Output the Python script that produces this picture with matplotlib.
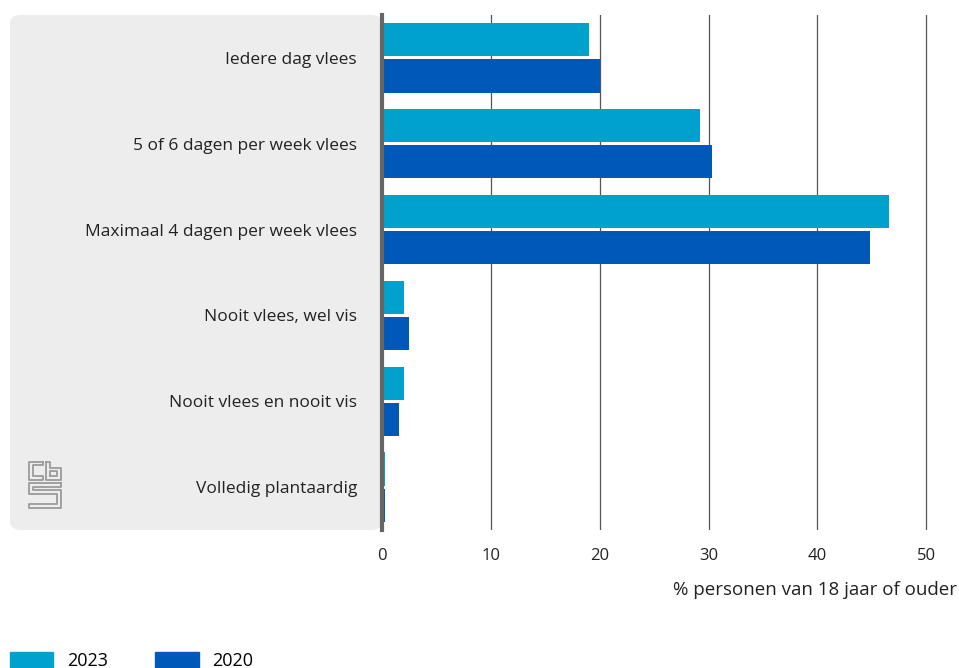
import numpy as np
import matplotlib
matplotlib.use("Agg")
import matplotlib.pyplot as plt
from matplotlib.patches import FancyBboxPatch, Patch

plt.rcParams['font.family'] = ['Open Sans', 'DejaVu Sans']

categories = ["Iedere dag vlees", "5 of 6 dagen per week vlees",
              "Maximaal 4 dagen per week vlees", "Nooit vlees, wel vis",
              "Nooit vlees en nooit vis", "Volledig plantaardig"]
values_2023 = [19.0, 29.2, 46.6, 2.0, 2.0, 0.3]
values_2020 = [20.0, 30.3, 44.8, 2.5, 1.6, 0.3]
series_labels = ["2023", "2020"]
colors = ["#00a1cd", "#0058b8"]
xticks = [0, 10, 20, 30, 40, 50]
xlabel = "% personen van 18 jaar of ouder"

W, H = 959, 668
fig = plt.figure(figsize=(W / 100, H / 100), dpi=100)

# axes area in pixels: left 382, right 959, top 15, bottom 530
ax = fig.add_axes([382 / W, 1 - 530 / H, (W - 382) / W, (530 - 15) / H])

# grey label panel behind category names
panel = FancyBboxPatch((10 / W, 1 - 530 / H), (382 - 10) / W, (530 - 15) / H,
                       boxstyle="round,pad=0,rounding_size=0.012",
                       transform=fig.transFigure, facecolor="#ededed",
                       edgecolor="none", zorder=-5)
fig.patches.append(panel)

y = np.arange(len(categories))
h = 0.386
ax.barh(y - 0.21, values_2023, height=h, color=colors[0], zorder=3)
ax.barh(y + 0.21, values_2020, height=h, color=colors[1], zorder=3)

ax.set_xlim(0, 53.0)
ax.set_ylim(5.5, -0.5)
ax.set_xticks(xticks)
ax.set_xticklabels([str(t) for t in xticks], fontsize=12, color="#222222")
ax.tick_params(axis="x", length=0, pad=13)
ax.set_yticks(y)
ax.set_yticklabels(categories, fontsize=12.5, color="#222222")
ax.tick_params(axis="y", length=0, pad=18)
ax.grid(axis="x", color="#555555", linewidth=0.9, zorder=0)
ax.set_axisbelow(True)
for s in ["top", "right", "bottom"]:
    ax.spines[s].set_visible(False)
ax.spines["left"].set_color("#666666")
ax.spines["left"].set_linewidth(3)
ax.spines["left"].set_zorder(5)
ax.patch.set_alpha(0)

fig.text(957 / W, 1 - 590 / H, xlabel, ha="right", va="center",
         fontsize=13.5, color="#222222")

# cbs logo (simple line drawing)
lax = fig.add_axes([28 / W, 1 - 509 / H, 34 / W, 48 / H])
lax.set_xlim(0, 10)
lax.set_ylim(0, 14)
lax.axis("off")
lc = "#9a9a9a"
lw = 1.3
# c
lax.plot([4.3, 0.3, 0.3, 4.3, 4.3, 1.4, 1.4, 4.3, 4.3], [13.7, 13.7, 8.6, 8.6, 9.6, 9.6, 12.7, 12.7, 13.7], color=lc, lw=lw)
# b
lax.plot([5.4, 5.4, 9.7, 9.7, 6.5, 6.5, 5.4], [13.7, 8.6, 8.6, 12.0, 12.0, 13.7, 13.7], color=lc, lw=lw)
lax.plot([6.6, 8.6, 8.6, 6.6, 6.6], [9.6, 9.6, 11.0, 11.0, 9.6], color=lc, lw=lw)
# s
lax.plot([9.7, 0.3, 0.3, 8.6, 8.6, 0.3, 0.3, 9.7, 9.7, 1.4, 1.4, 9.7, 9.7],
         [7.5, 7.5, 4.4, 4.4, 1.4, 1.4, 0.3, 0.3, 5.4, 5.4, 6.5, 6.5, 7.5], color=lc, lw=lw)

handles = [Patch(color=c, label=l) for c, l in zip(colors, series_labels)]
fig.legend(handles=handles, loc="lower left", bbox_to_anchor=(-0.003, -0.022),
           ncol=2, frameon=False, fontsize=13, handlelength=2.4,
           handleheight=1.0, columnspacing=2.65, handletextpad=0.75,
           borderaxespad=0.3)

fig.savefig("out.png", dpi=100)
